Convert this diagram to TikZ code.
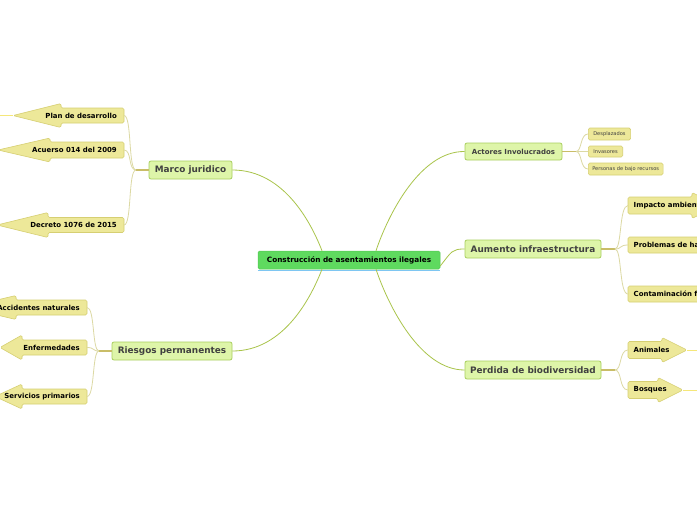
\documentclass[tikz,border=0pt]{standalone}
\usepackage{fontspec}
\setmainfont{DejaVu Sans}
\definecolor{cgreen}{HTML}{5FDA5F}
\definecolor{cgreenb}{HTML}{52C852}
\definecolor{subfill}{HTML}{DEF5A9}
\definecolor{subdraw}{HTML}{A9CF5E}
\definecolor{subtext}{HTML}{404040}
\definecolor{leaffill}{HTML}{EDE899}
\definecolor{leafdraw}{HTML}{D6CF72}
\definecolor{mainline}{HTML}{A9C44A}
\definecolor{stubline}{HTML}{C9BD68}
\definecolor{thinline}{HTML}{DCD9A4}
\definecolor{tipline}{HTML}{F5E77A}
\definecolor{blueline}{HTML}{7EC6F2}
\tikzset{
  centerbox/.style={rectangle, rounded corners=1.5pt, fill=cgreen, draw=cgreenb, line width=0.5pt,
    font=\bfseries\fontsize{7.3}{8}\selectfont, text=black, minimum width=182pt, minimum height=18pt, inner sep=0pt},
  subbox/.style={rectangle, rounded corners=2pt, fill=subfill, draw=subdraw, line width=0.8pt,
    font=\bfseries\fontsize{8.9}{10}\selectfont, text=subtext, minimum height=18pt, inner sep=0pt},
  smallleaf/.style={rectangle, rounded corners=1.5pt, fill=leaffill, draw=leafdraw, line width=0.6pt,
    font=\fontsize{5.1}{6}\selectfont, text=subtext, inner ysep=0pt, inner xsep=5pt, anchor=west},
  leafshape/.style={fill=leaffill, draw=leafdraw, line width=0.6pt, rounded corners=1.5pt},
  leaftext/.style={font=\bfseries\fontsize{6.95}{8}\selectfont, text=black, inner sep=0pt},
  mainconn/.style={draw=mainline, line width=0.8pt},
  stub/.style={draw=stubline, line width=1.2pt},
  thinconn/.style={draw=thinline, line width=0.8pt},
  tipconn/.style={draw=tipline, line width=0.8pt}
}
% left pointing arrow: name, tip x, base x, right x, y mid, body half, head half, text
\newcommand\LArr[8]{%
  \path[leafshape] ({#3},{#5-#6}) -- ({#3},{#5-#7}) -- ({#2},{#5}) -- ({#3},{#5+#7}) -- ({#3},{#5+#6})
    -- ({#4},{#5+#6}) -- ({#4},{#5-#6}) -- cycle;
  \node[leaftext, anchor=east] (#1) at ({#4-7},{#5}) {#8};}
% right pointing arrow: name, left x, base x, tip x, y mid, body half, head half, text
\newcommand\RArr[8]{%
  \path[leafshape] ({#3},{#5-#6}) -- ({#3},{#5-#7}) -- ({#4},{#5}) -- ({#3},{#5+#7}) -- ({#3},{#5+#6})
    -- ({#2},{#5+#6}) -- ({#2},{#5-#6}) -- cycle;
  \node[leaftext, anchor=west] (#1) at ({#2+5.5},{#5}) {#8};}
\begin{document}
\begin{tikzpicture}[x=1pt,y=-1pt]
\useasboundingbox (0,0) rectangle (697,520);
\fill[white] (0,0) rectangle (697,520);

% center
\node[centerbox] (c) at (349,260) {Construcción de asentamientos ilegales};
\draw[blueline, line width=1pt] ([yshift=-1.5pt]c.south west) -- ([yshift=-1.5pt]c.south east);

% sub topics
\node[subbox, minimum width=83pt] (marco) at (190.5,170) {Marco juridico};
\node[subbox, minimum width=120pt] (riesgos) at (172,351) {Riesgos permanentes};
\node[subbox, minimum width=97pt, minimum height=17pt, font=\bfseries\fontsize{7}{8}\selectfont] (actores) at (513.5,151.5) {Actores Involucrados};
\node[subbox, minimum width=136pt] (aumento) at (533,249) {Aumento infraestructura};
\node[subbox, minimum width=136pt] (perdida) at (533,370) {Perdida de biodiversidad};

% main connectors
\draw[mainconn] (marco.east) .. controls (285,170) and (312,225) .. ([xshift=-27pt]c.north);
\draw[mainconn] (riesgos.east) .. controls (285,351) and (312,295) .. ([xshift=-27pt]c.south);
\draw[mainconn] (actores.west) .. controls (420,151) and (388,215) .. ([xshift=27pt]c.north);
\draw[mainconn] (perdida.west) .. controls (420,370) and (388,305) .. ([xshift=27pt]c.south);
\draw[mainconn] ([yshift=-6pt]c.east) .. controls (452,251) and (452,249) .. (aumento.west);

% left leaves of Marco juridico
\LArr{pd}{13}{61}{124}{115.5}{7.5}{12}{Plan de desarrollo}
\LArr{ac}{-2}{50}{124}{150}{8}{12}{Acuerso 014 del 2009}
\LArr{de}{-3}{48}{124}{225}{7.5}{12.5}{Decreto 1076 de 2015}
\coordinate (mf) at (136,170);
\draw[stub] (marco.west) -- (mf);
\foreach \n in {pd,ac,de}{
  \draw[thinconn] (mf) .. controls (128,170) and (132,0|-\n.east) .. ([xshift=7pt]\n.east);}
\coordinate (pdl) at (0,115.5);
\draw[tipconn] (13,115.5) -- (pdl);

% left leaves of Riesgos
\LArr{an}{-35}{16}{87}{307.5}{7.5}{12}{Accidentes naturales}
\LArr{en}{0}{22}{87}{347.5}{7.5}{12.5}{Enfermedades}
\LArr{sp}{-5}{22}{87}{396.5}{7.5}{12.5}{Servicios primarios}
\coordinate (rf) at (99,351);
\draw[stub] (riesgos.west) -- (rf);
\foreach \n in {an,en,sp}{
  \draw[thinconn] (rf) .. controls (92,351) and (95,0|-\n.east) .. ([xshift=7pt]\n.east);}

% Actores leaves
\node[smallleaf, minimum height=12pt] (l1) at (588,134) {Desplazados};
\node[smallleaf, minimum height=11pt] (l2) at (588,151.5) {Invasores};
\node[smallleaf, minimum height=12pt, inner xsep=4pt] (l3) at (588,169) {Personas de bajo recursos};
\coordinate (af) at (576,151.5);
\draw[stub] (actores.east) -- (af);
\foreach \n in {l1,l2,l3}{
  \draw[thinconn] (af) .. controls (582,151.5) and (580,0|-\n.west) .. (\n.west);}

% Aumento leaves
\RArr{ia}{628}{692}{718}{205.5}{8.5}{13}{Impacto ambiental}
\path[leafshape] (628,237) rectangle (720,253);
\node[leaftext, anchor=west] (ph) at (633.5,245) {Problemas de habitabilidad};
\path[leafshape] (628,286) rectangle (720,302);
\node[leaftext, anchor=west] (cf) at (633.5,294) {Contaminación fuentes hídricas};
\coordinate (uf) at (615,249);
\draw[stub] (aumento.east) -- (uf);
\foreach \n in {ia,ph,cf}{
  \draw[thinconn] (uf) .. controls (622,249) and (619,0|-\n.west) .. ([xshift=-5.5pt]\n.west);}

% Perdida leaves
\RArr{am}{628}{662}{687}{350}{8.5}{12.5}{Animales}
\RArr{bo}{628}{658}{683}{390}{8.5}{12.5}{Bosques}
\coordinate (bf) at (615,370);
\draw[stub] (perdida.east) -- (bf);
\foreach \n in {am,bo}{
  \draw[thinconn] (bf) .. controls (622,370) and (619,0|-\n.west) .. ([xshift=-5.5pt]\n.west);}
\coordinate (amr) at (697,350);
\coordinate (bor) at (697,390);
\draw[tipconn] (687,350) -- (amr);
\draw[tipconn] (683,390) -- (bor);
\end{tikzpicture}
\end{document}
